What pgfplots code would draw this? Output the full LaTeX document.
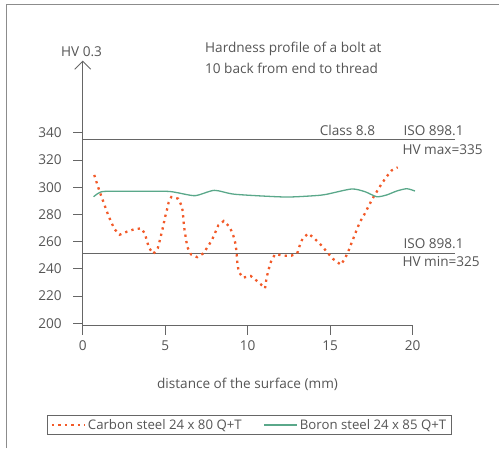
\documentclass[border=0pt]{standalone}
\usepackage{fontspec}
\setmainfont{Open Sans}
\usepackage{pgfplots}
\pgfplotsset{compat=1.18}
\usetikzlibrary{arrows.meta}
\definecolor{txt}{HTML}{555555}
\definecolor{axc}{HTML}{666666}
\definecolor{carb}{HTML}{F25A29}
\definecolor{boron}{HTML}{5AA88A}
\newcommand{\tf}{\fontsize{13.6bp}{16bp}\selectfont}
\newcommand{\lf}{\fontsize{13.2bp}{16bp}\selectfont}
\begin{document}
\begin{tikzpicture}
\begin{axis}[
  x=16.5bp, y=1.361bp,
  xmin=0, xmax=22.6, ymin=198.75, ymax=393,
  enlargelimits=false, clip=false,
  axis lines=left,
  x axis line style={draw=none},
  y axis line style={axc, line width=0.9bp, -{Straight Barb[length=8bp,width=16bp,line width=0.9bp]}},
  tick align=outside, major tick length=9.5bp,
  tick style={axc, line width=0.9bp},
  xtick={0,5,10,15,20}, ytick={200,220,...,340},
  ticklabel style={font=\tf, text=txt},
  /pgf/number format/assume math mode=true,
  yticklabel style={xshift=-8bp},
  xticklabel style={yshift=-3bp},
  legend columns=2,
  legend cell align=left,
  legend style={at={(0.447,-0.378)}, anchor=center, draw=axc, line width=0.9bp,
    font=\lf, text=txt, inner xsep=3bp, inner ysep=1.5bp,
    /tikz/every even column/.append style={column sep=20bp}},
  legend image code/.code={\draw[#1] (0bp,0bp) -- (33bp,0bp);},
]
\addplot[axc, line width=0.9bp, forget plot] coordinates {(0,335) (22.56,335)};
\addplot[axc, line width=0.9bp, forget plot] coordinates {(0,251.5) (22.56,251.5)};
\addplot[carb, line width=2.3bp, dash pattern=on 2.3bp off 4.2bp] coordinates {
(0.70,309) (0.85,303.3) (1.01,297.4) (1.19,291.3) (1.37,285.4) (1.55,279.4)
(1.76,273.5) (1.94,269) (2.24,265.1) (2.68,267.3) (3.09,269) (3.55,269.8)
(3.78,265.6) (3.90,260) (4.04,255.1) (4.28,251.1) (4.55,255.1) (4.67,260.7)
(4.89,272) (4.99,277.9) (5.11,283.5) (5.21,288.9) (5.37,292.8) (5.79,291.6)
(6.02,285.7) (6.08,279.8) (6.12,273.9) (6.18,267.8) (6.26,262) (6.34,256.1)
(6.56,250.7) (6.94,248.6) (7.31,251.4) (7.61,256.8) (7.84,261.4) (8.04,266.9)
(8.22,272) (8.55,275.2) (8.91,270.8) (9.13,264.4) (9.27,258) (9.33,251.4)
(9.37,244.8) (9.45,238.2) (9.70,233.5) (10.18,234.8) (10.67,230.1) (11.05,225.7)
(11.13,232.3) (11.25,238.9) (11.41,245.3) (11.65,250.7) (12.28,249.7) (12.64,249.7)
(13.0,251.4) (13.15,257) (13.33,262.4) (13.67,266) (14.04,262.4) (14.46,257.3)
(14.82,252.2) (15.15,247.5) (15.65,243) (15.9,247.8) (16.1,252.9) (16.26,258)
(16.42,262.9) (16.6,268.5) (16.8,274.4) (17.07,280) (17.31,285.7) (17.55,291.3)
(17.82,296.7) (18.08,301.8) (18.4,307.5) (18.73,312.4) (19.09,314.6)};
\addplot[boron, line width=1.3bp, smooth, tension=0.4] coordinates {
(0.66,293) (0.97,295.7) (1.47,297) (5.0,297) (5.72,296) (6.82,293.8) (7.98,297.7)
(9.23,294.8) (12.26,292.8) (14.08,293.8) (14.78,294.8) (16.3,298.7) (17.11,296.7)
(17.82,293) (18.42,294.3) (19.03,297.2) (19.64,298.9) (20.14,297.2)};
\legend{Carbon steel 24 x 80 Q+T, Boron steel 24 x 85 Q+T}
\draw[axc, line width=0.9bp] (axis cs:0,198.75) -- (axis cs:20,198.75);
\node[anchor=east, font=\tf, text=txt, inner sep=0pt] at (axis cs:17.73,341.4) {Class 8.8};
\node[anchor=west, font=\tf, text=txt, inner sep=0pt] at (axis cs:19.43,341.4) {ISO 898.1};
\node[anchor=west, font=\tf, text=txt, inner sep=0pt] at (axis cs:19.37,327.3) {HV max=335};
\node[anchor=west, font=\tf, text=txt, inner sep=0pt] at (axis cs:19.43,258.8) {ISO 898.1};
\node[anchor=west, font=\tf, text=txt, inner sep=0pt] at (axis cs:19.37,245.3) {HV min=325};
\node[anchor=west, font=\tf, text=txt, inner sep=0pt] at (axis cs:7.41,401.5) {Hardness profile of a bolt at};
\node[anchor=west, font=\tf, text=txt, inner sep=0pt] at (axis cs:7.41,387.6) {10 back from end to thread};
\node[anchor=center, font=\tf, text=txt, inner sep=0pt] at (axis cs:-0.07,399.3) {HV 0.3};
\node[anchor=center, font=\tf, text=txt, inner sep=0pt] at (axis cs:9.99,155.4) {distance of the surface (mm)};
\coordinate (BL) at (axis cs:-5.012,108.38);
\coordinate (TR) at (axis cs:25.23,437.55);
\coordinate (FL) at (axis cs:-4.606,434.6);
\end{axis}
\pgfresetboundingbox
\path[use as bounding box] (BL) rectangle (TR);
\draw[color=black!45, line width=1bp] (BL -| FL) -- (FL) -- (FL -| TR);
\end{tikzpicture}
\end{document}
